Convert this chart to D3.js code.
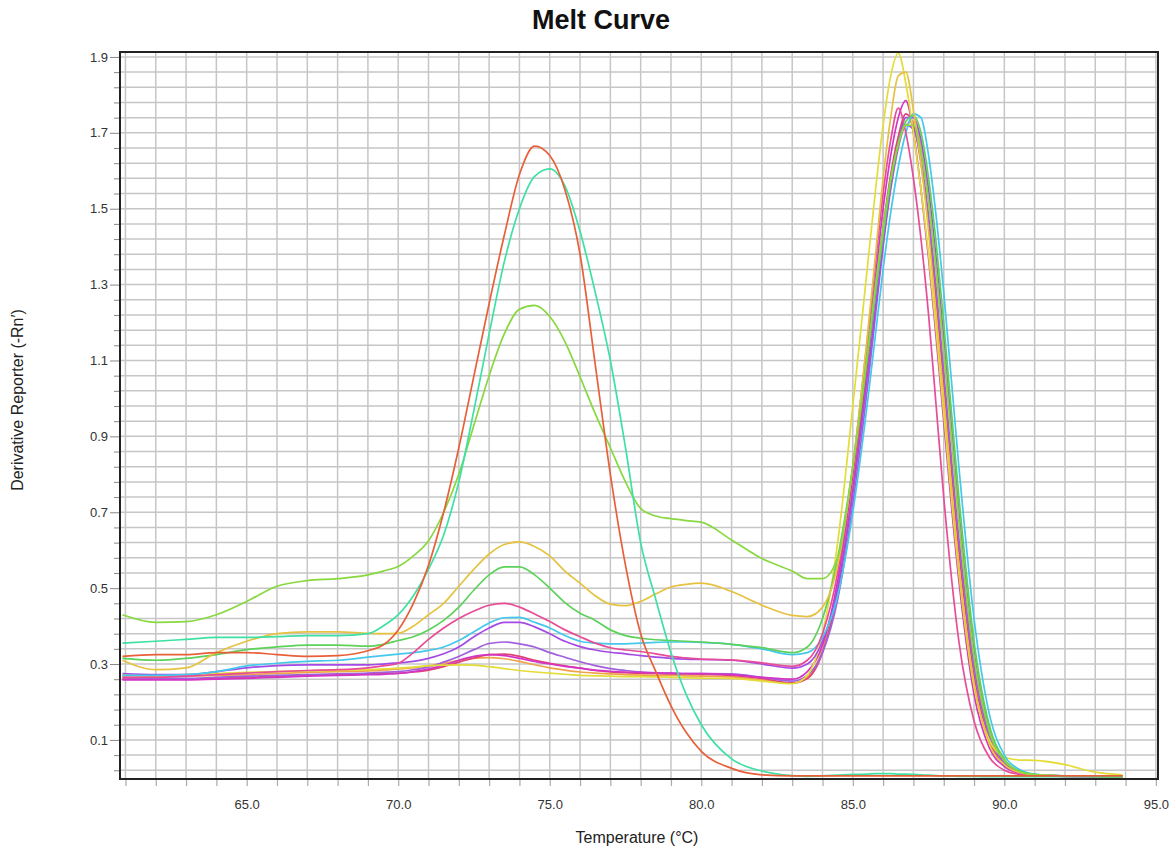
<!DOCTYPE html>
<html>
<head>
<meta charset="utf-8">
<script src="https://cdn.jsdelivr.net/npm/d3@7/dist/d3.min.js"></script>
<style>
body { margin: 0; background: #fff; }
text { font-family: "Liberation Sans", Arial, sans-serif; }
</style>
</head>
<body>
<svg id="chart" width="1175" height="852"></svg>
<script>
// temperature steps shared by every well
var temps = [60.9,62,63,64,65,66,67,68,
  69,69.5,70,70.5,71,71.5,72,72.5,73,73.5,74,74.5,
  75,75.5,76,76.5,77,77.5,78,78.5,79,79.5,80,
  81,82,83,83.5,84,84.5,85,85.5,
  85.75,86,86.25,86.5,86.75,87,87.25,87.5,87.75,88,
  88.5,89,89.5,90,90.5,91,92,93,93.9]

var redWell = [0.32,0.325,0.325,0.33,0.33,0.325,0.32,0.322,
  0.335,0.35,0.39,0.46,0.56,0.70,0.87,1.06,1.25,1.43,1.59,1.665,
  1.64,1.55,1.38,1.09,0.80,0.56,0.38,0.28,0.19,0.12,0.07,
  0.025,0.008,0.005,0.005,0.005,0.005,0.005,0.005,
  0.005,0.005,0.005,0.005,0.005,0.005,0.005,0.005,0.005,0.005,
  0.005,0.005,0.005,0.005,0.005,0.005,0.005,0.005,0.005]

var tealWell = [0.355,0.36,0.365,0.37,0.37,0.372,0.375,0.375,
  0.38,0.40,0.43,0.48,0.55,0.64,0.78,0.97,1.17,1.36,1.50,1.585,
  1.605,1.56,1.44,1.28,1.10,0.87,0.62,0.47,0.33,0.22,0.14,
  0.05,0.018,0.006,0.004,0.005,0.007,0.009,0.01,
  0.011,0.011,0.011,0.01,0.01,0.009,0.008,0.007,0.006,0.005,
  0.004,0.004,0.003,0.003,0.003,0.003,0.003,0.003,0.003]

var limeWell = [0.43,0.41,0.412,0.43,0.465,0.505,0.52,0.525,
  0.535,0.545,0.557,0.585,0.625,0.70,0.80,0.93,1.06,1.17,1.235,1.245,
  1.216,1.15,1.057,0.96,0.87,0.78,0.71,0.69,0.683,0.678,0.674,
  0.627,0.578,0.545,0.525,0.525,0.58,0.82,1.13,
  1.30,1.45,1.58,1.67,1.72,1.72,1.65,1.52,1.34,1.13,
  0.68,0.32,0.125,0.045,0.017,0.008,0.005,0.004,0.003]

var goldWell = [0.31,0.285,0.29,0.33,0.36,0.38,0.385,0.385,
  0.381,0.38,0.381,0.40,0.43,0.46,0.505,0.55,0.59,0.615,0.622,0.61,
  0.585,0.545,0.513,0.48,0.458,0.454,0.465,0.485,0.503,0.51,0.513,
  0.491,0.455,0.428,0.425,0.45,0.56,0.82,1.18,
  1.38,1.58,1.74,1.85,1.86,1.76,1.62,1.44,1.22,1.0,
  0.56,0.25,0.09,0.035,0.014,0.008,0.005,0.004,0.003]

var yellowWell = [0.27,0.27,0.272,0.275,0.278,0.28,0.282,0.283,
  0.285,0.287,0.289,0.292,0.295,0.297,0.298,0.297,0.293,0.288,0.283,0.279,
  0.276,0.273,0.27,0.269,0.268,0.267,0.267,0.266,0.265,0.264,0.263,
  0.262,0.255,0.248,0.27,0.38,0.62,0.98,1.36,
  1.55,1.72,1.85,1.91,1.83,1.70,1.55,1.38,1.18,0.96,
  0.54,0.24,0.10,0.055,0.047,0.046,0.035,0.015,0.008]

var greenWell = [0.315,0.31,0.315,0.325,0.338,0.345,0.35,0.35,
  0.347,0.352,0.362,0.372,0.39,0.415,0.45,0.495,0.535,0.556,0.556,0.535,
  0.50,0.462,0.434,0.415,0.39,0.375,0.368,0.364,0.362,0.36,0.358,
  0.352,0.343,0.33,0.345,0.42,0.58,0.82,1.12,
  1.28,1.43,1.57,1.67,1.73,1.745,1.70,1.58,1.41,1.20,
  0.74,0.36,0.14,0.05,0.018,0.009,0.005,0.004,0.003]

var pinkWell = [0.265,0.265,0.268,0.272,0.276,0.28,0.283,0.285,
  0.29,0.295,0.302,0.33,0.365,0.395,0.42,0.44,0.455,0.46,0.45,0.432,
  0.412,0.39,0.372,0.355,0.343,0.337,0.333,0.327,0.32,0.316,0.313,
  0.311,0.303,0.294,0.31,0.38,0.54,0.82,1.17,
  1.36,1.54,1.68,1.765,1.70,1.58,1.42,1.22,0.98,0.74,
  0.36,0.15,0.055,0.02,0.009,0.005,0.004,0.003,0.003]

var cyanWell = [0.27,0.27,0.272,0.28,0.295,0.302,0.307,0.31,
  0.318,0.322,0.326,0.33,0.336,0.345,0.362,0.385,0.408,0.422,0.423,0.41,
  0.395,0.375,0.36,0.355,0.353,0.353,0.355,0.357,0.358,0.358,0.357,
  0.352,0.34,0.325,0.33,0.37,0.48,0.70,1.0,
  1.17,1.34,1.49,1.61,1.70,1.75,1.74,1.64,1.48,1.28,
  0.82,0.42,0.17,0.06,0.022,0.01,0.005,0.004,0.003]

var purpleWell = [0.275,0.272,0.272,0.28,0.29,0.296,0.298,0.298,
  0.298,0.30,0.303,0.307,0.315,0.327,0.345,0.372,0.395,0.41,0.41,0.398,
  0.38,0.36,0.346,0.337,0.331,0.327,0.322,0.318,0.315,0.313,0.312,
  0.31,0.30,0.289,0.30,0.36,0.50,0.75,1.07,
  1.24,1.41,1.56,1.67,1.74,1.74,1.68,1.55,1.37,1.16,
  0.70,0.33,0.13,0.045,0.017,0.008,0.005,0.004,0.003]

var violetWell = [0.265,0.262,0.262,0.265,0.268,0.27,0.272,0.274,
  0.276,0.278,0.28,0.285,0.292,0.305,0.32,0.338,0.354,0.358,0.353,0.345,
  0.33,0.318,0.306,0.296,0.288,0.283,0.279,0.277,0.276,0.275,0.275,
  0.274,0.265,0.255,0.27,0.33,0.47,0.72,1.04,
  1.22,1.40,1.55,1.66,1.72,1.71,1.63,1.48,1.29,1.07,
  0.63,0.29,0.11,0.04,0.015,0.008,0.005,0.004,0.003]

var crimsonWell = [0.26,0.26,0.26,0.262,0.265,0.268,0.27,0.272,
  0.274,0.275,0.276,0.279,0.284,0.293,0.305,0.316,0.325,0.326,0.32,0.31,
  0.302,0.295,0.289,0.283,0.279,0.277,0.276,0.275,0.274,0.274,0.273,
  0.27,0.262,0.25,0.262,0.33,0.49,0.76,1.10,
  1.28,1.45,1.59,1.69,1.75,1.72,1.62,1.46,1.26,1.04,
  0.60,0.27,0.10,0.035,0.013,0.007,0.005,0.004,0.003]

var orangeWell = [0.27,0.268,0.268,0.27,0.272,0.275,0.278,0.28,
  0.282,0.284,0.287,0.29,0.295,0.302,0.31,0.315,0.317,0.314,0.307,0.298,
  0.29,0.284,0.279,0.276,0.274,0.272,0.271,0.27,0.27,0.269,0.268,
  0.266,0.258,0.25,0.265,0.34,0.50,0.78,1.11,
  1.28,1.44,1.57,1.67,1.72,1.73,1.66,1.52,1.34,1.13,
  0.68,0.31,0.12,0.04,0.015,0.008,0.005,0.004,0.003]

var magentaWell = [0.258,0.258,0.258,0.26,0.262,0.265,0.268,0.27,
  0.272,0.273,0.275,0.28,0.287,0.297,0.31,0.32,0.325,0.322,0.315,0.307,
  0.30,0.294,0.289,0.284,0.281,0.279,0.278,0.277,0.276,0.275,0.275,
  0.272,0.265,0.26,0.28,0.35,0.52,0.80,1.14,
  1.32,1.50,1.64,1.74,1.785,1.70,1.55,1.37,1.16,0.94,
  0.52,0.22,0.08,0.03,0.012,0.006,0.004,0.003,0.003]

var wells = [
  {key: 'orange', values: orangeWell},
  {key: 'crimson', values: crimsonWell},
  {key: 'violet', values: violetWell},
  {key: 'magenta', values: magentaWell},
  {key: 'yellow', values: yellowWell},
  {key: 'purple', values: purpleWell},
  {key: 'cyan', values: cyanWell},
  {key: 'pink', values: pinkWell},
  {key: 'green', values: greenWell},
  {key: 'gold', values: goldWell},
  {key: 'lime', values: limeWell},
  {key: 'teal', values: tealWell},
  {key: 'red', values: redWell}
]

var color = {
  red: '#e8603a', teal: '#3fe0a4', lime: '#88d840', gold: '#e6c240',
  yellow: '#e4dc38', green: '#5cd25a', pink: '#e84c98', cyan: '#44c8ec',
  purple: '#a44ae6', violet: '#a060dc', crimson: '#e04272', orange: '#f0a44a',
  magenta: '#d434c6'
}

var yTickVals = d3.range(48).map(i => +(0.02 + i*0.04).toFixed(2))
var xTickVals = d3.range(61, 96)
var isMajorY = v => Math.abs(((v - 0.1)/0.2) - Math.round((v - 0.1)/0.2)) < 1e-6

var svg = d3.select('#chart')
var L = 120, R = 1158, T = 52, B = 779

var x = d3.scaleLinear().domain([60.82, 95.07]).range([L, R])
var y = d3.scaleLinear().domain([-0.003, 1.913]).range([B, T])

svg.append('rect').attr('width', 1175).attr('height', 852).attr('fill', '#fff')

// grid
var grid = svg.append('g').attr('stroke', '#c6c6c6').attr('stroke-width', 1.5)
grid.selectAll('line.gx').data(xTickVals.filter(d => x(d) < R - 1)).join('line')
  .attr('x1', d => x(d)).attr('x2', d => x(d)).attr('y1', T).attr('y2', B)
grid.selectAll('line.gy').data(yTickVals).join('line')
  .attr('y1', d => y(d)).attr('y2', d => y(d)).attr('x1', L).attr('x2', R)

svg.append('clipPath').attr('id', 'plot')
  .append('rect').attr('x', L).attr('y', T).attr('width', R - L).attr('height', B - T)

var line = d3.line()
  .x((d, i) => x(temps[i]))
  .y(d => y(d))
  .curve(d3.curveMonotoneX)

svg.append('g').attr('clip-path', 'url(#plot)')
  .selectAll('path').data(wells).join('path')
  .attr('d', d => line(d.values))
  .attr('fill', 'none')
  .attr('stroke', d => color[d.key])
  .attr('stroke-width', 1.7)
  .attr('stroke-linejoin', 'round')

// axes
var yAxis = d3.axisLeft(y).tickValues(yTickVals).tickSize(6).tickPadding(4)
  .tickFormat(d => isMajorY(d) ? d3.format('.1f')(d) : '')
var yG = svg.append('g').attr('transform', `translate(${L},0)`).call(yAxis)
yG.select('.domain').remove()
yG.selectAll('.tick line').attr('stroke', '#888').attr('x2', d => isMajorY(d) ? -10 : -6)
yG.selectAll('.tick text').attr('x', -12).attr('font-size', 13).attr('fill', '#333')
  .attr('font-family', '"Liberation Sans", Arial, sans-serif')

var xAxis = d3.axisBottom(x).tickValues(xTickVals).tickSize(7).tickPadding(14)
  .tickFormat(d => d % 5 == 0 ? d3.format('.1f')(d) : '')
var xG = svg.append('g').attr('transform', `translate(0,${B})`).call(xAxis)
xG.select('.domain').remove()
xG.selectAll('.tick line').attr('stroke', '#aaa').attr('stroke-width', 1.2)
xG.selectAll('.tick text').attr('font-size', 13).attr('fill', '#333')
  .attr('font-family', '"Liberation Sans", Arial, sans-serif')

// frame
svg.append('path')
  .attr('d', `M${L},${T}H${R}V${B}H${L}Z`)
  .attr('fill', 'none').attr('stroke', '#222').attr('stroke-width', 2)

svg.append('text').text('Melt Curve')
  .attr('x', 601).attr('y', 29).attr('text-anchor', 'middle')
  .attr('font-size', 27).attr('font-weight', 'bold').attr('fill', '#111')

svg.append('text').text('Temperature (°C)')
  .attr('x', 637).attr('y', 843).attr('text-anchor', 'middle')
  .attr('font-size', 16).attr('fill', '#222')

svg.append('text').text('Derivative Reporter (-Rn\u2032)')
  .attr('transform', 'translate(23,400) rotate(-90)').attr('text-anchor', 'middle')
  .attr('font-size', 16).attr('fill', '#222')
</script>
</body>
</html>
